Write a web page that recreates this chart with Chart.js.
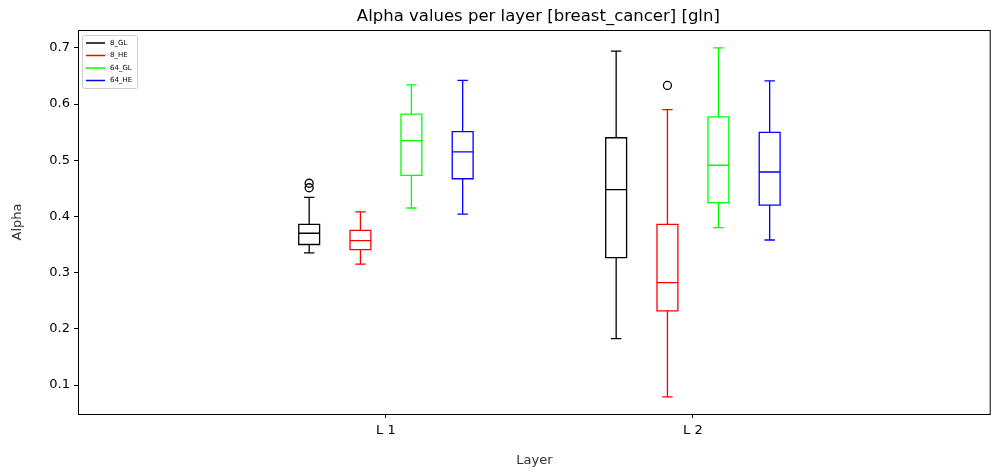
<!DOCTYPE html>
<html>
<head>
<meta charset="utf-8">
<script src="https://cdn.jsdelivr.net/npm/chart.js@4.4.1/dist/chart.umd.min.js"></script>
<style>
  html, body { margin: 0; padding: 0; background: #fff; overflow: hidden; }
  #wrap { width: 996px; height: 472px; }
</style>
</head>
<body>
<div id="wrap"><canvas id="chart-alpha"></canvas></div>
<script>
  // layers on the x axis and series names
  const layers = ["L 1", "L 2"];
  const seriesNames = ["8_GL", "8_HE", "64_GL", "64_HE"];

  // box stats per layer: [whisker low, q1, median, q3, whisker high]
  const gl8 = [[0.335, 0.350, 0.370, 0.386, 0.434], [0.1825, 0.3265, 0.4475, 0.540, 0.694]];
  const he8 = [[0.315, 0.341, 0.357, 0.375, 0.408], [0.079, 0.232, 0.282, 0.386, 0.590]];
  const gl64 = [[0.415, 0.473, 0.535, 0.582, 0.634], [0.380, 0.4245, 0.491, 0.577, 0.700]];
  const he64 = [[0.404, 0.467, 0.515, 0.551, 0.642], [0.358, 0.420, 0.479, 0.5495, 0.641]];

  // fliers per layer
  const gl8Out = [[0.459, 0.451], []];
  const he8Out = [[], [0.633]];
  const gl64Out = [[], []];
  const he64Out = [[], []];

  const yTicks = [0.1, 0.2, 0.3, 0.4, 0.5, 0.6, 0.7];
  const chartTitle = "Alpha values per layer [breast_cancer] [gln]";

  const stats = [gl8, he8, gl64, he64];
  const fliers = [gl8Out, he8Out, gl64Out, he64Out];
  const colors = ["#000000", "#ff0000", "#00ff00", "#0000ff"];
  const offsets = [-0.25, -0.083, 0.083, 0.25];
  const halfBox = 0.034;
  const halfCap = 0.017;
  const FONT = "'DejaVu Sans', sans-serif";

  const datasets = seriesNames.map((name, i) => ({
    label: name,
    stats: stats[i],
    offset: offsets[i],
    boxColor: colors[i],
    data: fliers[i].flatMap((vals, li) => vals.map(v => ({ x: li + 1 + offsets[i], y: v }))),
    pointRadius: 4,
    pointHoverRadius: 4,
    pointBorderWidth: 1.3,
    pointBorderColor: "#000",
    pointBackgroundColor: "rgba(0,0,0,0)",
    showLine: false,
  }));

  // draws boxes, whiskers, caps and medians from each dataset's stats
  const boxPlot = {
    id: "boxPlot",
    beforeDatasetsDraw(chart) {
      const { ctx, scales: { x, y } } = chart;
      ctx.save();
      ctx.lineWidth = 1.3;
      chart.data.datasets.forEach(ds => {
        ctx.strokeStyle = ds.boxColor;
        ds.stats.forEach((s, li) => {
          const c = li + 1 + ds.offset;
          const xc = x.getPixelForValue(c);
          const xl = x.getPixelForValue(c - halfBox);
          const xr = x.getPixelForValue(c + halfBox);
          const cl = x.getPixelForValue(c - halfCap);
          const cr = x.getPixelForValue(c + halfCap);
          const [lo, q1, med, q3, hi] = s.map(v => y.getPixelForValue(v));
          ctx.beginPath();
          ctx.moveTo(xc, lo); ctx.lineTo(xc, q1);
          ctx.moveTo(xc, q3); ctx.lineTo(xc, hi);
          ctx.moveTo(cl, lo); ctx.lineTo(cr, lo);
          ctx.moveTo(cl, hi); ctx.lineTo(cr, hi);
          ctx.moveTo(xl, med); ctx.lineTo(xr, med);
          ctx.rect(xl, q3, xr - xl, q1 - q3);
          ctx.stroke();
        });
      });
      ctx.restore();
    },
    afterDraw(chart) {
      const { ctx, chartArea: a } = chart;
      ctx.save();
      // title centred over the plot area
      ctx.fillStyle = "#000";
      ctx.font = "16.5px " + FONT;
      ctx.textAlign = "center";
      ctx.textBaseline = "middle";
      ctx.fillText(chartTitle, (a.left + a.right) / 2 + 4, 17);
      // y axis title
      ctx.fillStyle = "#333";
      ctx.font = "13px " + FONT;
      ctx.save();
      ctx.translate(18, (a.top + a.bottom) / 2);
      ctx.rotate(-Math.PI / 2);
      ctx.fillText("Alpha", 0, 0);
      ctx.restore();
      ctx.textAlign = "left";
      // frame
      ctx.strokeStyle = "#000";
      ctx.lineWidth = 1;
      ctx.strokeRect(a.left + 0.5, a.top + 0.5, a.right - a.left - 1, a.bottom - a.top);
      // legend
      const lx = a.left + 4, ly = a.top + 5;
      ctx.fillStyle = "rgba(255,255,255,0.8)";
      ctx.strokeStyle = "#d0d0d0";
      ctx.beginPath();
      ctx.roundRect(lx + 0.5, ly + 0.5, 55, 53, 2);
      ctx.fill();
      ctx.stroke();
      ctx.font = "7px " + FONT;
      ctx.textBaseline = "middle";
      ctx.lineWidth = 1.5;
      chart.data.datasets.forEach((ds, i) => {
        const yy = ly + 8 + i * 12.5;
        ctx.strokeStyle = ds.boxColor;
        ctx.beginPath();
        ctx.moveTo(lx + 4, yy);
        ctx.lineTo(lx + 23, yy);
        ctx.stroke();
        ctx.fillStyle = "#000";
        ctx.fillText(ds.label, lx + 28, yy);
      });
      ctx.restore();
    },
  };

  new Chart(document.getElementById("chart-alpha"), {
    type: "scatter",
    data: { datasets },
    plugins: [boxPlot],
    options: {
      responsive: true,
      maintainAspectRatio: false,
      animation: false,
      events: [],
      layout: { padding: { left: 0, right: 0, top: 30, bottom: 0 } },
      plugins: {
        legend: { display: false },
        tooltip: { enabled: false },
        title: { display: false },
      },
      scales: {
        x: {
          type: "linear",
          min: -0.003,
          max: 2.97,
          afterBuildTicks: scale => { scale.ticks = layers.map((_, i) => ({ value: i + 1 })); },
          afterFit: scale => {
            scale.height = 58;
            scale.paddingLeft = 0;
            scale.paddingRight = 0;
          },
          ticks: {
            color: "#000",
            font: { family: FONT, size: 13 },
            padding: 5,
            callback: v => layers[v - 1],
          },
          grid: { drawOnChartArea: false, drawTicks: true, tickLength: 4, color: "#000" },
          border: { display: false },
          title: {
            display: true,
            text: "Layer",
            color: "#333",
            font: { family: FONT, size: 13 },
            padding: { top: 16 },
          },
        },
        y: {
          min: 0.0484,
          max: 0.7317,
          afterBuildTicks: scale => { scale.ticks = yTicks.map(v => ({ value: v })); },
          afterFit: scale => { scale.width = 78; },
          ticks: {
            color: "#000",
            font: { family: FONT, size: 13 },
            padding: 4,
            callback: v => v.toFixed(1),
          },
          grid: { drawOnChartArea: false, drawTicks: true, tickLength: 4, color: "#000" },
          border: { display: false },
        },
      },
    },
  });
</script>
</body>
</html>
